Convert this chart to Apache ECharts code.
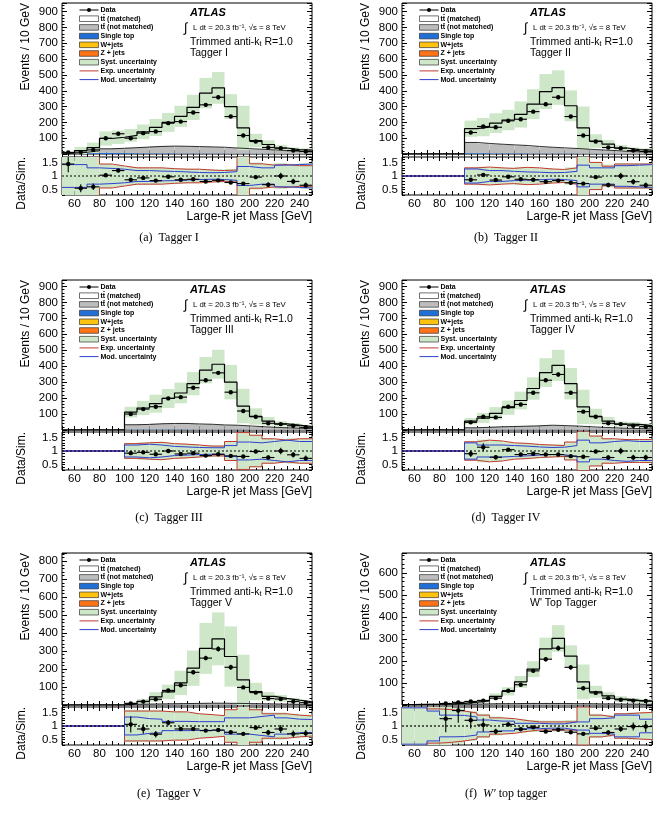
<!DOCTYPE html>
<html>
<head>
<meta charset="utf-8">
<script src="https://cdn.jsdelivr.net/npm/echarts@6/dist/echarts.min.js"></script>
<style>
html,body{margin:0;padding:0;background:#fff}
#chart{width:662px;height:813px}
</style>
</head>
<body>
<div id="chart"></div>
<script>
// bin edges of the large-R jet mass histograms (10 GeV bins)
var binEdges = [50,60,70,80,90,100,110,120,130,140,150,160,170,180,190,200,210,220,230,240,250];
var xTickLabels = [60,80,100,120,140,160,180,200,220,240];
var ratioTickLabels = [0.5,1,1.5];
var eventTicks9 = [100,200,300,400,500,600,700,800,900];
var eventTicks8 = [100,200,300,400,500,600,700,800];
var eventTicks6 = [100,200,300,400,500,600];

// (a) Tagger I
var dataI = [10,12,26,100,128,100,132,142,195,205,262,311,359,237,117,79,41,37,22,16];
var mcI = [7,22,40,98,106,118,140,168,200,238,295,385,418,300,165,85,60,38,28,24];
var notMatchedI = [3,8,15,25,30,35,40,44,46,46,44,42,40,36,32,28,24,20,16,12];
var singleTopI = [1,3,5,8,6,5,4,4,4,3,3,3,3,2,2,2,2,1,1,1];
var ratioI = [1.44,0.55,0.6,1.03,1.2,0.86,0.93,0.83,0.97,0.86,0.88,0.8,0.84,0.76,0.72,0.96,0.68,1.0,0.8,0.66];
var ratioErrI = [0.3,0.15,0.12,0.06,0.06,0.06,0.05,0.05,0.04,0.04,0.03,0.03,0.03,0.03,0.04,0.06,0.08,0.12,0.1,0.1];
var systI = [1.0,1.0,0.8,0.46,0.4,0.34,0.33,0.32,0.3,0.28,0.27,0.25,0.24,0.26,0.85,0.5,0.45,0.48,0.45,0.48];
var expI = [0.95,0.95,0.75,0.44,0.37,0.3,0.3,0.3,0.27,0.25,0.25,0.22,0.2,0.22,0.8,0.45,0.4,0.42,0.38,0.38];
var modI = [0.42,0.42,0.3,0.28,0.25,0.2,0.2,0.18,0.17,0.15,0.13,0.12,0.13,0.16,0.35,0.3,0.3,0.4,0.42,0.44];

// (b) Tagger II
var dataII = [null,null,null,null,null,136,174,169,210,220,268,315,359,237,117,79,41,37,22,16];
var mcII = [0,0,0,0,0,160,170,195,215,250,315,395,420,305,165,82,62,38,28,24];
var notMatchedII = [0,0,0,0,0,68,62,58,54,50,45,40,36,32,28,24,20,16,13,10];
var singleTopII = [0,0,0,0,0,5,5,4,4,4,3,3,3,3,2,2,2,1,1,1];
var ratioII = [null,null,null,null,null,0.86,1.04,0.85,0.97,0.88,0.86,0.79,0.83,0.75,0.72,0.96,0.67,1.0,0.79,0.66];
var ratioErrII = [0,0,0,0,0,0.06,0.05,0.05,0.04,0.04,0.03,0.03,0.03,0.03,0.04,0.06,0.08,0.12,0.1,0.1];
var systII = [0,0,0,0,0,0.32,0.34,0.32,0.3,0.33,0.3,0.28,0.26,0.32,0.82,0.52,0.42,0.48,0.48,0.48];
var expII = [0,0,0,0,0,0.3,0.33,0.3,0.28,0.32,0.3,0.26,0.24,0.3,0.78,0.5,0.36,0.44,0.44,0.44];
var modII = [0,0,0,0,0,0.26,0.2,0.2,0.17,0.15,0.14,0.12,0.13,0.17,0.4,0.3,0.3,0.38,0.4,0.42];

// (c) Tagger III
var dataIII = [null,null,null,null,null,100,131,146,198,206,265,312,358,237,119,83,42,37,27,17];
var mcIII = [0,0,0,0,0,112,138,165,198,232,290,375,412,300,150,85,55,38,30,22];
var notMatchedIII = [0,0,0,0,0,30,32,36,38,38,36,34,30,28,24,20,16,13,10,8];
var singleTopIII = [0,0,0,0,0,3,3,3,3,3,2,2,2,2,2,1,1,1,1,1];
var ratioIII = [null,null,null,null,null,0.92,0.95,0.88,1.0,0.89,0.92,0.83,0.88,0.82,0.8,0.98,0.76,1.0,0.86,0.73];
var ratioErrIII = [0,0,0,0,0,0.06,0.05,0.05,0.04,0.04,0.03,0.03,0.03,0.03,0.04,0.06,0.08,0.12,0.1,0.1];
var systIII = [0,0,0,0,0,0.3,0.32,0.34,0.3,0.28,0.25,0.22,0.22,0.36,0.72,0.6,0.48,0.44,0.47,0.47];
var expIII = [0,0,0,0,0,0.27,0.3,0.32,0.27,0.25,0.22,0.18,0.18,0.35,0.68,0.58,0.45,0.4,0.45,0.45];
var modIII = [0,0,0,0,0,0.22,0.25,0.22,0.17,0.15,0.13,0.12,0.12,0.2,0.33,0.3,0.35,0.4,0.35,0.35];

// (d) Tagger IV
var dataIV = [null,null,null,null,null,48,83,79,146,160,233,312,348,233,115,83,42,37,27,21];
var mcIV = [0,0,0,0,0,55,75,104,140,185,260,360,405,290,145,85,55,37,35,28];
var notMatchedIV = [0,0,0,0,0,12,15,18,20,22,24,28,26,24,20,16,13,10,8,6];
var singleTopIV = [0,0,0,0,0,2,2,2,2,2,2,2,2,1,1,1,1,1,1,1];
var ratioIV = [null,null,null,null,null,0.9,1.14,0.77,1.05,0.87,0.9,0.87,0.87,0.81,0.79,0.98,0.76,1.0,0.76,0.76];
var ratioErrIV = [0,0,0,0,0,0.12,0.15,0.08,0.06,0.05,0.04,0.03,0.03,0.04,0.05,0.06,0.08,0.12,0.1,0.1];
var systIV = [0,0,0,0,0,0.36,0.42,0.38,0.32,0.3,0.27,0.25,0.24,0.34,0.74,0.57,0.47,0.44,0.44,0.44];
var expIV = [0,0,0,0,0,0.34,0.4,0.37,0.3,0.28,0.24,0.22,0.2,0.33,0.72,0.55,0.45,0.42,0.42,0.42];
var modIV = [0,0,0,0,0,0.3,0.22,0.22,0.2,0.18,0.15,0.13,0.14,0.2,0.4,0.3,0.35,0.38,0.35,0.35];

// (e) Tagger V
var dataV = [null,null,null,null,null,9,19,32,81,110,182,261,312,210,98,69,36,33,19,13];
var mcV = [0,0,0,0,0,9,21,45,73,123,205,315,368,270,140,75,48,37,27,18];
var notMatchedV = [0,0,0,0,0,3,4,5,6,7,8,9,9,8,7,6,5,4,3,3];
var singleTopV = [0,0,0,0,0,1,1,1,1,1,1,1,1,1,1,1,1,1,1,1];
var ratioV = [null,null,null,null,null,1.06,0.89,0.7,1.12,0.89,0.89,0.83,0.85,0.77,0.71,0.94,0.76,0.89,0.71,0.73];
var ratioErrV = [0,0,0,0,0,0.3,0.18,0.12,0.1,0.07,0.05,0.04,0.04,0.05,0.06,0.08,0.1,0.15,0.12,0.12];
var systV = [0,0,0,0,0,0.6,0.58,0.58,0.55,0.55,0.48,0.45,0.4,0.62,1.0,0.65,0.5,0.5,0.45,0.42];
var expV = [0,0,0,0,0,0.55,0.55,0.55,0.52,0.52,0.45,0.42,0.38,0.6,0.98,0.6,0.45,0.45,0.4,0.37];
var modV = [0,0,0,0,0,0.33,0.27,0.25,0.17,0.17,0.16,0.16,0.16,0.3,0.3,0.35,0.4,0.3,0.25,0.24];

// (f) W' top tagger
var dataW = [null,null,null,7,12,16,20,31,65,92,155,208,258,171,76,55,31,24,20,18];
var mcW = [2,3,4,5.5,7.5,13,19,39,62,105,163,255,302,222,105,60,41,27,21,18];
var notMatchedW = [1,1,2,2,3,3,4,5,5,6,6,6,6,5,5,4,4,3,3,2];
var singleTopW = [0,0,1,1,1,1,1,1,1,1,1,1,1,1,1,1,1,1,1,1];
var ratioW = [null,null,null,1.27,1.57,1.21,1.04,0.8,1.06,0.88,0.95,0.8,0.86,0.77,0.71,0.92,0.76,0.89,0.98,0.98];
var ratioErrW = [0,0,0,0.5,0.45,0.3,0.25,0.1,0.08,0.06,0.05,0.04,0.04,0.05,0.06,0.08,0.08,0.1,0.15,0.2];
var systW = [1.0,1.0,0.8,0.7,0.65,0.55,0.45,0.35,0.3,0.25,0.22,0.2,0.2,0.22,0.75,0.45,0.4,0.48,0.5,0.52];
var expW = [1.0,1.0,0.63,0.6,0.55,0.48,0.4,0.3,0.27,0.2,0.15,0.15,0.15,0.15,0.7,0.4,0.33,0.45,0.48,0.5];
var modW = [0.67,0.67,0.55,0.4,0.39,0.33,0.22,0.18,0.18,0.1,0.1,0.08,0.08,0.15,0.15,0.27,0.3,0.4,0.4,0.25];

var panels = [
  {caption:'(a)  Tagger I', tag:'Tagger I', col:0, row:0, yMax:955, yTicks:eventTicks9,
   data:dataI, mc:mcI, nm:notMatchedI, st:singleTopI, ratio:ratioI, rErr:ratioErrI, syst:systI, exp:expI, mod:modI},
  {caption:'(b)  Tagger II', tag:'Tagger II', col:1, row:0, yMax:955, yTicks:eventTicks9,
   data:dataII, mc:mcII, nm:notMatchedII, st:singleTopII, ratio:ratioII, rErr:ratioErrII, syst:systII, exp:expII, mod:modII},
  {caption:'(c)  Tagger III', tag:'Tagger III', col:0, row:1, yMax:940, yTicks:eventTicks9,
   data:dataIII, mc:mcIII, nm:notMatchedIII, st:singleTopIII, ratio:ratioIII, rErr:ratioErrIII, syst:systIII, exp:expIII, mod:modIII},
  {caption:'(d)  Tagger IV', tag:'Tagger IV', col:1, row:1, yMax:940, yTicks:eventTicks9,
   data:dataIV, mc:mcIV, nm:notMatchedIV, st:singleTopIV, ratio:ratioIV, rErr:ratioErrIV, syst:systIV, exp:expIV, mod:modIV},
  {caption:'(e)  Tagger V', tag:'Tagger V', col:0, row:2, yMax:846, yTicks:eventTicks8,
   data:dataV, mc:mcV, nm:notMatchedV, st:singleTopV, ratio:ratioV, rErr:ratioErrV, syst:systV, exp:expV, mod:modV},
  {caption:'(f)  {i|W\u2032} top tagger', tag:'W\' Top Tagger', col:1, row:2, yMax:690, yTicks:eventTicks6,
   data:dataW, mc:mcW, nm:notMatchedW, st:singleTopW, ratio:ratioW, rErr:ratioErrW, syst:systW, exp:expW, mod:modW}
];

var FONT = "'Liberation Sans', Arial, Helvetica, sans-serif";
var colLeft = [62, 402];
var plotW = 250;
var rowTop = [3, 280, 553];
var mainH = [151, 150, 152];
var ratioTop = [157, 432, 707];
var ratioH = 38;
var captionY = [238, 518, 794];
var captionX = [169, 506];

var GREEN = '#cde7c8', GREY = '#bdbdbd', BLUE_ST = '#1f6fd6', YELLOW = '#ffc20e', ORANGE = '#ff7417';
var RED = '#c23b30', BLUE = '#2f3fd0';

var chart = echarts.init(document.getElementById('chart'));
var grids = [], xAxes = [], yAxes = [], series = [], graphics = [];

function stepData(vals) {
  var d = [];
  for (var i = 0; i < vals.length; i++) d.push([binEdges[i], vals[i]]);
  d.push([binEdges[vals.length], vals[vals.length - 1]]);
  return d;
}

function clipToGrid(r, cs) {
  return echarts.graphic.clipRectByRect(r, {x: cs.x, y: cs.y, width: cs.width, height: cs.height});
}

function boxRender(fill, stroke) {
  return function (params, api) {
    var a = api.coord([api.value(0), api.value(3)]);
    var b = api.coord([api.value(1), api.value(2)]);
    var r = clipToGrid({x: a[0], y: a[1], width: b[0] - a[0], height: b[1] - a[1]}, params.coordSys);
    if (!r) return null;
    return {type: 'rect', shape: r, style: {fill: fill, stroke: stroke || null, lineWidth: stroke ? 0.8 : 0}};
  };
}

function pointRender(params, api) {
  var lo = api.value(0), v = api.value(1), e = api.value(2);
  var cs = params.coordSys;
  var c = api.coord([lo + 5, v]);
  var L = api.coord([lo, v]), R = api.coord([lo + 10, v]);
  var U = api.coord([lo + 5, v + e]), D = api.coord([lo + 5, v - e]);
  var top = Math.max(U[1], cs.y), bot = Math.min(D[1], cs.y + cs.height);
  return {type: 'group', children: [
    {type: 'line', shape: {x1: L[0], y1: c[1], x2: R[0], y2: c[1]}, style: {stroke: '#000', lineWidth: 1.1}},
    {type: 'line', shape: {x1: c[0], y1: top, x2: c[0], y2: bot}, style: {stroke: '#000', lineWidth: 1.1}},
    {type: 'circle', shape: {cx: c[0], cy: c[1], r: 2.2}, style: {fill: '#000'}}
  ]};
}

function boxSeries(gi, items, fill, stroke, z) {
  return {type: 'custom', xAxisIndex: gi * 2, yAxisIndex: gi * 2, data: items, z: z,
    renderItem: boxRender(fill, stroke), encode: {x: [0, 1], y: [2, 3]}, silent: true, animation: false};
}

function stepSeries(gi, vals, color, width, z) {
  return {type: 'line', xAxisIndex: gi * 2, yAxisIndex: gi * 2, data: stepData(vals), step: 'end',
    symbol: 'none', z: z, silent: true, animation: false,
    lineStyle: {color: color, width: width}};
}

function addAxes(gi, isRatio, p) {
  var tickStyle = {color: '#000', width: 1};
  var baseX = {gridIndex: gi, type: 'value', min: 50, max: 250, interval: 10,
    axisLine: {show: false}, splitLine: {show: false},
    axisTick: {inside: true, length: 4, lineStyle: tickStyle},
    minorTick: {show: true, splitNumber: 2, length: 2, lineStyle: tickStyle}};
  xAxes.push(Object.assign({}, baseX, {position: 'bottom',
    axisLabel: isRatio ? {customValues: xTickLabels, fontSize: 11.5, color: '#000', fontFamily: FONT, margin: 3} : {show: false}}));
  xAxes.push(Object.assign({}, baseX, {position: 'top', axisLabel: {show: false}}));
  var baseY;
  if (isRatio) {
    baseY = {gridIndex: gi, type: 'value', min: 0.3, max: 1.7, interval: 0.1,
      axisLine: {show: false}, splitLine: {show: false},
      axisTick: {inside: true, length: 3, lineStyle: tickStyle}};
    yAxes.push(Object.assign({}, baseY, {position: 'left',
      axisLabel: {customValues: ratioTickLabels, fontSize: 11.5, color: '#000', fontFamily: FONT, margin: 4}}));
  } else {
    baseY = {gridIndex: gi, type: 'value', min: 0, max: p.yMax, interval: 100,
      axisLine: {show: false}, splitLine: {show: false},
      axisTick: {inside: true, length: 5, lineStyle: tickStyle},
      minorTick: {show: true, splitNumber: 5, length: 2.5, lineStyle: tickStyle}};
    yAxes.push(Object.assign({}, baseY, {position: 'left',
      axisLabel: {customValues: p.yTicks, fontSize: 11.5, color: '#000', fontFamily: FONT, margin: 4}}));
  }
  yAxes.push(Object.assign({}, baseY, {position: 'right', axisLabel: {show: false}}));
}

function addText(x, y, text, size, opts) {
  var st = Object.assign({text: text, fill: '#000', font: (opts && opts.weight ? opts.weight + ' ' : '') + size + 'px ' + FONT,
    align: 'left', verticalAlign: 'middle'}, (opts && opts.style) || {});
  graphics.push(Object.assign({type: 'text', x: x, y: y, style: st, z: 50}, (opts && opts.el) || {}));
}

function addLegend(left, top) {
  var entries = [
    ['data', 'Data'], ['box', 't\u0074\u0304 (matched)', '#ffffff'], ['box', 't\u0074\u0304 (not matched)', GREY],
    ['box', 'Single top', BLUE_ST], ['box', 'W+jets', YELLOW], ['box', 'Z + jets', ORANGE],
    ['box', 'Syst. uncertainty', GREEN], ['line', 'Exp. uncertainty', RED], ['line', 'Mod. uncertainty', BLUE]
  ];
  entries.forEach(function (en, i) {
    var y = top + 7 + 8.7 * i;
    var x0 = left + 17.5, x1 = left + 36.5;
    if (en[0] === 'data') {
      graphics.push({type: 'line', shape: {x1: x0, y1: y, x2: x1, y2: y}, style: {stroke: '#000', lineWidth: 1}, z: 50});
      graphics.push({type: 'circle', shape: {cx: (x0 + x1) / 2, cy: y, r: 2}, style: {fill: '#000'}, z: 50});
    } else if (en[0] === 'box') {
      graphics.push({type: 'rect', shape: {x: x0, y: y - 2.8, width: x1 - x0, height: 5.6},
        style: {fill: en[2], stroke: '#333', lineWidth: 0.7}, z: 50});
    } else {
      graphics.push({type: 'line', shape: {x1: x0, y1: y, x2: x1, y2: y}, style: {stroke: en[2], lineWidth: 1}, z: 50});
    }
    addText(left + 38.5, y, en[1], 7, {weight: 'bold'});
  });
}

panels.forEach(function (p, k) {
  var left = colLeft[p.col], top = rowTop[p.row];
  var gMain = k * 2, gRatio = k * 2 + 1;
  grids.push({left: left, top: top, width: plotW, height: mainH[p.row], show: true,
    borderColor: '#000', borderWidth: 1, backgroundColor: 'transparent'});
  grids.push({left: left, top: ratioTop[p.row], width: plotW, height: ratioH, show: true,
    borderColor: '#000', borderWidth: 1, backgroundColor: 'transparent'});
  addAxes(gMain, false, p);
  addAxes(gRatio, true, p);

  // main panel: stacked simulation, syst band, data
  var stItems = [], nmItems = [], bandItems = [], nmTop = [], ptItems = [];
  var rBand = [], expUp = [], expDn = [], modUp = [], modDn = [], rItems = [];
  for (var i = 0; i < 20; i++) {
    var lo = binEdges[i], hi = binEdges[i + 1];
    var st = p.st[i], nm = p.nm[i], mc = p.mc[i];
    if (st > 0) stItems.push([lo, hi, 0, st]);
    if (nm > 0) nmItems.push([lo, hi, st, st + nm]);
    nmTop.push(st + nm);
    if (p.syst[i] > 0 && mc > 0) bandItems.push([lo, hi, mc * (1 - p.syst[i]), mc * (1 + p.syst[i])]);
    if (p.data[i] != null) ptItems.push([lo, p.data[i], p.rErr[i] * mc]);
    if (p.syst[i] > 0) rBand.push([lo, hi, 1 - p.syst[i], 1 + p.syst[i]]);
    expUp.push(1 + p.exp[i]); expDn.push(1 - p.exp[i]);
    modUp.push(1 + p.mod[i]); modDn.push(1 - p.mod[i]);
    if (p.ratio[i] != null) rItems.push([lo, p.ratio[i], p.rErr[i]]);
  }
  series.push(boxSeries(gMain, stItems, BLUE_ST, null, 2));
  series.push(boxSeries(gMain, nmItems, GREY, null, 2));
  series.push(boxSeries(gMain, bandItems, GREEN, null, 3));
  series.push(stepSeries(gMain, nmTop, '#000', 0.8, 4));
  series.push(stepSeries(gMain, p.mc, '#000', 1.2, 4));
  series.push({type: 'custom', xAxisIndex: gMain * 2, yAxisIndex: gMain * 2, data: ptItems, z: 6,
    renderItem: pointRender, encode: {x: 0, y: 1}, silent: true, animation: false});

  // ratio panel
  series.push(boxSeries(gRatio, rBand, GREEN, null, 2));
  series.push(stepSeries(gRatio, expUp, RED, 1, 3));
  series.push(stepSeries(gRatio, expDn, RED, 1, 3));
  series.push(stepSeries(gRatio, modUp, BLUE, 1, 4));
  series.push(stepSeries(gRatio, modDn, BLUE, 1, 4));
  series.push({type: 'line', xAxisIndex: gRatio * 2, yAxisIndex: gRatio * 2, data: [[50, 1], [250, 1]],
    symbol: 'none', z: 5, silent: true, animation: false, lineStyle: {color: '#000', width: 1.2, type: [2, 2]}});
  series.push({type: 'custom', xAxisIndex: gRatio * 2, yAxisIndex: gRatio * 2, data: rItems, z: 6,
    renderItem: pointRender, encode: {x: 0, y: 1}, silent: true, animation: false});

  // texts
  addLegend(left, top);
  addText(left + 128, top + 10, 'ATLAS', 11, {weight: 'italic bold'});
  addText(left + 122, top + 25, '\u222B', 13, {});
  addText(left + 131, top + 25, 'L dt = 20.3 fb\u207B\u00B9, \u221As = 8 TeV', 7.8, {});
  graphics.push({type: 'text', x: left + 128, y: top + 39, z: 50, style: {
    text: '{a|Trimmed anti-k}{b|t}{a| R=1.0}', align: 'left', verticalAlign: 'middle',
    rich: {a: {fontSize: 10.5, fontFamily: FONT, fill: '#000', verticalAlign: 'middle'},
           b: {fontSize: 7, fontFamily: FONT, fill: '#000', verticalAlign: 'bottom'}}}});
  addText(left + 128, top + 50.5, p.tag, 10.5, {});

  // axis titles
  addText(left - 36, top, 'Events / 10 GeV', 12, {el: {rotation: Math.PI / 2}, style: {align: 'right'}});
  addText(left - 40, ratioTop[p.row], 'Data/Sim.', 12, {el: {rotation: Math.PI / 2}, style: {align: 'right'}});
  addText(left + plotW, ratioTop[p.row] + ratioH + 22, 'Large-R jet Mass [GeV]', 12, {style: {align: 'right'}});

  // caption
  graphics.push({type: 'text', x: captionX[p.col], y: captionY[p.row], z: 50, style: {
    text: p.caption, align: 'center', verticalAlign: 'middle',
    fill: '#000', font: "12px 'Liberation Serif', 'Times New Roman', serif",
    rich: {i: {fontStyle: 'italic', fontSize: 12, fontFamily: "'Liberation Serif', serif", fill: '#000'}}}});
});

chart.setOption({
  animation: false,
  grid: grids,
  xAxis: xAxes,
  yAxis: yAxes,
  series: series,
  graphic: {elements: graphics}
});
</script>
</body>
</html>
